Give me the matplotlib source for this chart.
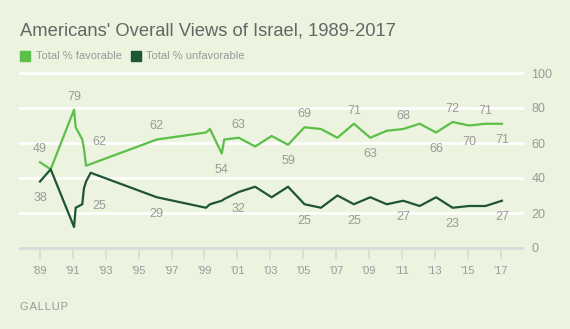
import matplotlib
matplotlib.use("Agg")
import matplotlib.pyplot as plt

# ---- data ----
dates = [1989.0, 1989.65, 1991.07, 1991.17, 1991.57, 1991.67, 1991.8, 1992.08,
         1996.1, 1999.09, 1999.33, 2000.05, 2000.2, 2001.08, 2002.08, 2003.08,
         2004.08, 2005.08, 2006.08, 2007.08, 2008.08, 2009.08, 2010.08, 2011.08,
         2012.08, 2013.08, 2014.08, 2015.08, 2016.08, 2017.08]
favorable = [49, 45, 79, 69, 62, 57, 47, 48,
             62, 66, 68, 54, 62, 63, 58, 64,
             59, 69, 68, 63, 71, 63, 67, 68,
             71, 66, 72, 70, 71, 71]
unfavorable = [38, 45, 12, 23, 25, 34, 38, 43,
               29, 23, 25, 27, 28, 32, 35, 29,
               35, 25, 23, 30, 25, 29, 25, 27,
               24, 29, 23, 24, 24, 27]
tick_years = list(range(1989, 2018, 2))
tick_labels = ["'%02d" % (y % 100) for y in tick_years]
y_ticks = [0, 20, 40, 60, 80, 100]

# labelled points: (index, placement)
fav_labels = [(0, 'above'), (2, 'above'), (4, 'right'), (8, 'above'), (11, 'below'),
              (13, 'above'), (16, 'below'), (17, 'above'), (20, 'above'), (21, 'below'),
              (23, 'above'), (25, 'below'), (26, 'above'), (27, 'below'), (28, 'above'),
              (29, 'below')]
unf_labels = [(0, 'below'), (4, 'right'), (8, 'below'), (13, 'below'), (17, 'below'),
              (20, 'below'), (23, 'below'), (26, 'below'), (29, 'below')]

BG = '#ECF3DE'
FAV_C = '#5CBF4A'
UNF_C = '#1E5631'
GRAY = '#9A9A9A'
TITLE_C = '#666666'
FONT = 'Liberation Sans'

fig = plt.figure(figsize=(5.7, 3.29), dpi=100, facecolor=BG)
ax = fig.add_axes([20/570, 1-248/329, 501.7/570, 175/329])
ax.set_facecolor(BG)
x0 = 1989 + (20-40)/16.45
x1 = 1989 + (521.7-40)/16.45
ax.set_xlim(x0, x1)
ax.set_ylim(0, 100)

for s in ax.spines.values():
    s.set_visible(False)

for v in y_ticks[1:]:
    ax.axhline(v, color='white', lw=2.0, clip_on=False, zorder=1)
ax.axhline(0, color='#DADADA', lw=2.0, clip_on=False, zorder=1)

ax.plot(dates, favorable, color=FAV_C, lw=1.6, zorder=3, clip_on=False)
ax.plot(dates, unfavorable, color=UNF_C, lw=1.6, zorder=3, clip_on=False)

ax.set_xticks(tick_years)
ax.set_xticklabels(tick_labels, family=FONT, fontsize=8, color=GRAY)
ax.tick_params(axis='x', length=8, width=1.2, color='#DADADA', pad=5)
ax.yaxis.tick_right()
ax.set_yticks(y_ticks)
ax.set_yticklabels([str(v) for v in y_ticks], family=FONT, fontsize=9, color=GRAY)
ax.tick_params(axis='y', length=0, pad=7)

offsets = {'above': (0, 9.4), 'below': (0, -12.0), 'right': (12.0, -1.5)}

def label(series, specs):
    for i, pos in specs:
        dx, dy = offsets[pos]
        ax.annotate(str(series[i]), (dates[i], series[i]), xytext=(dx, dy),
                    textcoords='offset points', ha='center', va='center',
                    family=FONT, fontsize=9, color=GRAY, zorder=4,
                    annotation_clip=False)

label(favorable, fav_labels)
label(unfavorable, unf_labels)

fig.text(20/570, 1-35/329, "Americans' Overall Views of Israel, 1989-2017",
         family=FONT, fontsize=13.2, color=TITLE_C, ha='left', va='baseline')

# legend
fig.patches.append(plt.Rectangle((20/570, 1-61/329), 10/570, 10/329,
                                 transform=fig.transFigure, color=FAV_C))
fig.text(36/570, 1-56/329, "Total % favorable", family=FONT, fontsize=8,
         color=GRAY, ha='left', va='center')
fig.patches.append(plt.Rectangle((131/570, 1-61/329), 10/570, 10/329,
                                 transform=fig.transFigure, color=UNF_C))
fig.text(146/570, 1-56/329, "Total % unfavorable", family=FONT, fontsize=8,
         color=GRAY, ha='left', va='center')

fig.text(20/570, 1-307/329, "G A L L U P".replace(' ', '\u200a'), family=FONT,
         fontsize=8, color=GRAY, ha='left', va='center')

fig.savefig('out.png', dpi=100, facecolor=BG)
